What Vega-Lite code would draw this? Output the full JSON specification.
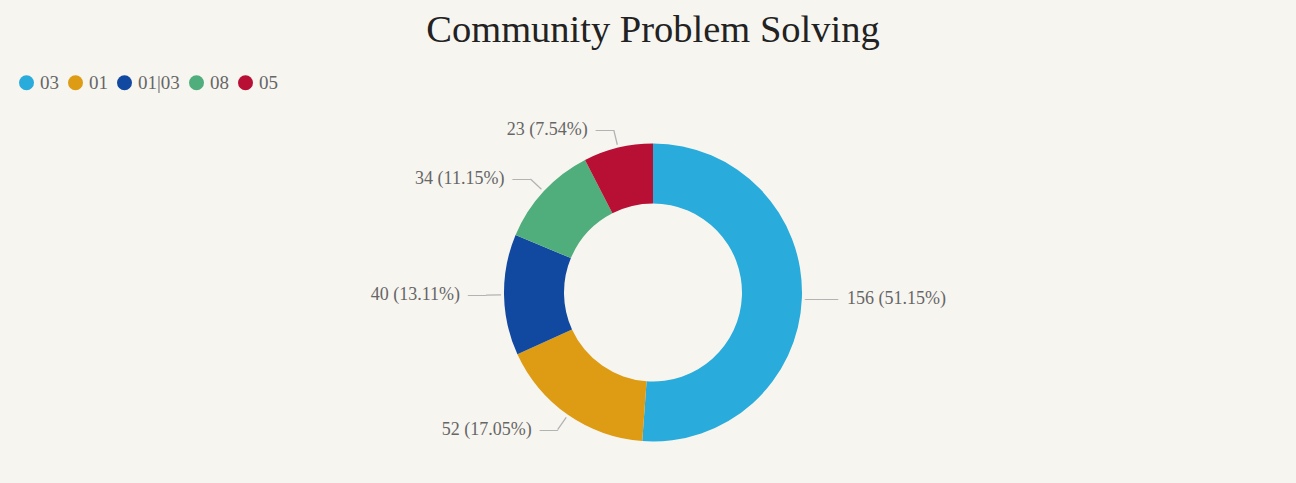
{
  "$schema": "https://vega.github.io/schema/vega-lite/v6.json",
  "width": 1296,
  "height": 483,
  "autosize": {"type": "fit", "contains": "padding"},
  "padding": {"left": 10, "right": 0, "top": 10, "bottom": 0},
  "background": "#f7f5f0",
  "title": {
    "text": "Community Problem Solving",
    "font": "Liberation Serif",
    "fontSize": 38.5,
    "fontWeight": "normal",
    "color": "#222222",
    "anchor": "middle",
    "offset": 52
  },
  "config": {"view": {"stroke": null}},
  "data": {
    "values": [
      {"cat": "03", "value": 156, "label": "156 (51.15%)"},
      {"cat": "01", "value": 52, "label": "52 (17.05%)"},
      {"cat": "01|03", "value": 40, "label": "40 (13.11%)"},
      {"cat": "08", "value": 34, "label": "34 (11.15%)"},
      {"cat": "05", "value": 23, "label": "23 (7.54%)"}
    ]
  },
  "layer": [
    {
      "mark": {"type": "arc", "radius": 149, "radius2": 89},
      "encoding": {
        "theta": {"field": "value", "type": "quantitative", "stack": true},
        "order": {"field": "value", "type": "quantitative", "sort": "descending"},
        "color": {
          "field": "cat",
          "type": "nominal",
          "scale": {
            "domain": ["03", "01", "01|03", "08", "05"],
            "range": ["#29abdc", "#de9c14", "#1148a0", "#50ae7c", "#b80f35"]
          },
          "legend": {
            "title": null,
            "orient": "none",
            "direction": "horizontal",
            "legendX": 7,
            "legendY": -29,
            "padding": 0,
            "symbolType": "circle",
            "symbolSize": 225,
            "symbolStrokeWidth": 0,
            "symbolOpacity": 1,
            "labelFont": "Liberation Serif",
            "labelFontSize": 19,
            "labelColor": "#666666",
            "labelOffset": 4,
            "columnPadding": 7
          }
        }
      }
    },
    {
      "mark": {"type": "arc", "radius": 167, "radius2": 152, "padAngle": 3.1416, "fill": "transparent", "stroke": "#b3b3b3", "strokeWidth": 1.3},
      "encoding": {
        "theta": {"field": "value", "type": "quantitative", "stack": true},
        "order": {"field": "value", "type": "quantitative", "sort": "descending"},
        "detail": {"field": "cat", "type": "nominal"},
        "strokeOpacity": {"condition": {"test": "datum.cat === '03'", "value": 0}, "value": 1}
      }
    },
    {
      "mark": {"type": "text", "text": "—", "radius": 167, "align": "right", "baseline": "middle", "font": "Liberation Serif", "fontSize": 18, "color": "#b3b3b3"},
      "encoding": {
        "theta": {"field": "value", "type": "quantitative", "stack": true},
        "order": {"field": "value", "type": "quantitative", "sort": "descending"},
        "detail": {"field": "cat", "type": "nominal"},
        "opacity": {"condition": {"test": "datum.cat === '03'", "value": 0}, "value": 1}
      }
    },
    {
      "mark": {"type": "text", "text": "——", "radius": 152, "align": "left", "baseline": "middle", "font": "Liberation Serif", "fontSize": 16.5, "color": "#b3b3b3"},
      "encoding": {
        "theta": {"field": "value", "type": "quantitative", "stack": true},
        "order": {"field": "value", "type": "quantitative", "sort": "descending"},
        "detail": {"field": "cat", "type": "nominal"},
        "opacity": {"condition": {"test": "datum.cat === '03'", "value": 1}, "value": 0}
      }
    },
    {
      "mark": {"type": "text", "radius": 167, "align": "right", "baseline": "middle", "dx": -26, "font": "Liberation Serif", "fontSize": 18, "color": "#666666"},
      "encoding": {
        "theta": {"field": "value", "type": "quantitative", "stack": true},
        "order": {"field": "value", "type": "quantitative", "sort": "descending"},
        "detail": {"field": "cat", "type": "nominal"},
        "text": {"field": "label", "type": "nominal"},
        "opacity": {"condition": {"test": "datum.cat === '03'", "value": 0}, "value": 1}
      }
    },
    {
      "mark": {"type": "text", "radius": 167, "align": "left", "baseline": "middle", "dx": 27, "font": "Liberation Serif", "fontSize": 18, "color": "#666666"},
      "encoding": {
        "theta": {"field": "value", "type": "quantitative", "stack": true},
        "order": {"field": "value", "type": "quantitative", "sort": "descending"},
        "detail": {"field": "cat", "type": "nominal"},
        "text": {"field": "label", "type": "nominal"},
        "opacity": {"condition": {"test": "datum.cat === '03'", "value": 1}, "value": 0}
      }
    }
  ]
}
